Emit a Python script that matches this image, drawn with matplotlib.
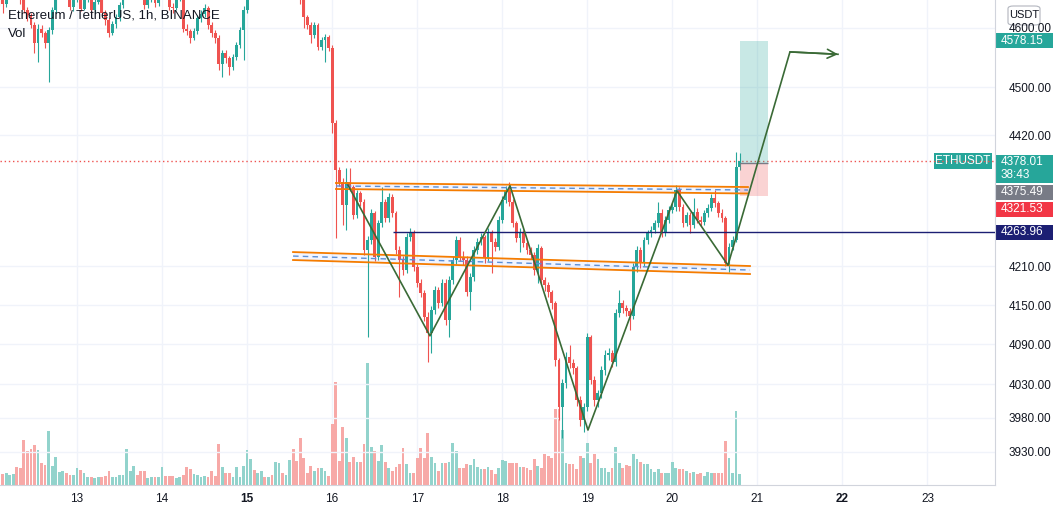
import matplotlib
matplotlib.use("Agg")
import matplotlib.pyplot as plt
import numpy as np
from matplotlib.patches import Rectangle, FancyBboxPatch
from matplotlib.ticker import NullLocator

W, H = 1059, 512

# hourly ETHUSDT candles, first bar 12 Nov 02:00
first_open = 4662
closes = [
    4650, 4641, 4660, 4672, 4681, 4664, 4655, 4630, 4622, 4605, 4574, 4598,
    4591, 4574, 4596, 4630, 4656, 4670, 4680, 4665, 4636, 4650, 4662, 4633,
    4650, 4660, 4630, 4645, 4655, 4625, 4613, 4591, 4606, 4618, 4639, 4655,
    4665, 4675, 4690, 4680, 4670, 4639, 4650, 4660, 4643, 4655, 4670, 4660,
    4636, 4634, 4648, 4660, 4598, 4595, 4583, 4595, 4617, 4623, 4634, 4605,
    4591, 4583, 4538, 4558, 4548, 4533, 4550, 4570, 4596, 4630, 4665, 4690,
    4675, 4700, 4725, 4705, 4730, 4712, 4735, 4755, 4730, 4745, 4760, 4720,
    4680, 4648, 4618, 4605, 4588, 4605, 4568, 4579, 4584, 4565, 4440, 4363,
    4344, 4307, 4344, 4336, 4291, 4326, 4312, 4236, 4252, 4294, 4225, 4278,
    4312, 4286, 4320, 4294, 4236, 4220, 4204, 4256, 4263, 4209, 4184, 4169,
    4132, 4107, 4142, 4173, 4153, 4184, 4127, 4189, 4220, 4252, 4225, 4220,
    4170, 4194, 4236, 4248, 4256, 4223, 4263, 4248, 4241, 4283, 4315, 4331,
    4312, 4278, 4255, 4264, 4247, 4236, 4228, 4204, 4239, 4189, 4181, 4170,
    4153, 4066, 3996, 4032, 4071, 4062, 4054, 4006, 3977, 3996, 4101, 4036,
    4006, 4017, 4051, 4074, 4077, 4063, 4138, 4153, 4145, 4141, 4133, 4209,
    4236, 4215, 4252, 4263, 4267, 4278, 4294, 4263, 4283, 4299, 4304, 4331,
    4304, 4278, 4291, 4275, 4296, 4283, 4280, 4294, 4302, 4318, 4310, 4294,
    4286, 4215, 4241, 4252, 4368, 4378.01,
]
highs = [
    4668, 4655, 4664, 4680, 4690, 4684, 4668, 4660, 4636, 4626, 4610, 4606,
    4604, 4595, 4601, 4636, 4662, 4678, 4692, 4684, 4668, 4656, 4670, 4666,
    4655, 4668, 4664, 4652, 4662, 4660, 4630, 4617, 4611, 4624, 4645, 4662,
    4674, 4684, 4698, 4695, 4686, 4674, 4656, 4667, 4664, 4662, 4676, 4674,
    4665, 4642, 4654, 4668, 4664, 4606, 4598, 4600, 4622, 4630, 4641, 4638,
    4610, 4596, 4588, 4563, 4562, 4552, 4556, 4576, 4602, 4637, 4672, 4698,
    4696, 4708, 4732, 4730, 4738, 4735, 4742, 4765, 4760, 4752, 4770, 4764,
    4725, 4685, 4652, 4622, 4610, 4610, 4608, 4585, 4590, 4588, 4570, 4446,
    4368, 4350, 4366, 4366, 4340, 4332, 4330, 4316, 4258, 4300, 4298, 4284,
    4336, 4316, 4326, 4324, 4298, 4242, 4226, 4262, 4270, 4268, 4214, 4190,
    4174, 4140, 4148, 4180, 4178, 4190, 4190, 4195, 4226, 4258, 4256, 4234,
    4226, 4200, 4242, 4255, 4263, 4260, 4270, 4268, 4255, 4290, 4322, 4338,
    4344, 4316, 4282, 4270, 4268, 4250, 4240, 4232, 4245, 4242, 4194, 4186,
    4174, 4157, 4070, 4038, 4078, 4089, 4068, 4058, 4012, 4002, 4108, 4104,
    4042, 4022, 4057, 4081, 4084, 4082, 4144, 4173, 4158, 4150, 4146, 4215,
    4242, 4240, 4257, 4268, 4273, 4284, 4312, 4300, 4289, 4305, 4310, 4339,
    4336, 4308, 4296, 4296, 4318, 4302, 4290, 4299, 4308, 4324, 4331, 4314,
    4300, 4290, 4247, 4258, 4393, 4391,
]
lows = [
    4638, 4626, 4636, 4655, 4668, 4652, 4640, 4625, 4612, 4599, 4557, 4542,
    4585, 4566, 4508, 4590, 4625, 4650, 4664, 4655, 4630, 4628, 4645, 4628,
    4630, 4644, 4624, 4626, 4640, 4618, 4605, 4584, 4587, 4600, 4612, 4634,
    4650, 4660, 4670, 4672, 4662, 4633, 4634, 4645, 4636, 4638, 4650, 4654,
    4630, 4626, 4630, 4646, 4592, 4588, 4574, 4579, 4590, 4610, 4618, 4598,
    4584, 4574, 4529, 4517, 4540, 4520, 4528, 4545, 4565, 4545, 4625, 4660,
    4668, 4670, 4696, 4698, 4700, 4705, 4708, 4730, 4722, 4725, 4740, 4712,
    4672, 4640, 4599, 4598, 4574, 4583, 4562, 4562, 4542, 4560, 4424, 4254,
    4338, 4275, 4267, 4330, 4285, 4286, 4305, 4228, 4101, 4246, 4218, 4220,
    4272, 4280, 4280, 4288, 4230, 4162, 4196, 4200, 4250, 4203, 4178, 4162,
    4125, 4063, 4077, 4136, 4146, 4148, 4120, 4101, 4182, 4214, 4218, 4212,
    4164, 4142, 4188, 4230, 4244, 4216, 4218, 4200, 4234, 4236, 4278, 4310,
    4306, 4272, 4248, 4232, 4240, 4230, 4222, 4196, 4184, 4182, 4172, 4162,
    4144, 4058, 3977, 3950, 4024, 4054, 4046, 3998, 3968, 3959, 3990, 4030,
    3998, 3996, 4010, 4044, 4066, 4056, 4058, 4132, 4138, 4134, 4112, 4128,
    4202, 4208, 4210, 4246, 4257, 4262, 4272, 4256, 4258, 4278, 4294, 4298,
    4298, 4272, 4274, 4263, 4270, 4278, 4274, 4276, 4288, 4298, 4304, 4288,
    4280, 4211, 4202, 4236, 4248, 4364,
]
# volume, thousand ETH per hour
volumes = [
    19, 11, 12, 10, 11, 18, 17, 45, 34, 36, 40, 35, 22, 20, 54, 19, 28, 13,
    14, 12, 10, 10, 17, 15, 12, 8, 8, 7, 8, 8, 9, 14, 8, 8, 10, 10,
    36, 14, 19, 10, 14, 14, 7, 8, 8, 8, 18, 9, 9, 9, 7, 8, 10, 18,
    16, 11, 10, 8, 9, 8, 14, 9, 41, 18, 12, 12, 8, 18, 8, 19, 35, 26,
    15, 12, 14, 8, 8, 10, 23, 22, 12, 10, 25, 36, 24, 47, 27, 12, 19, 14,
    17, 17, 14, 9, 61, 103, 24, 58, 47, 23, 28, 23, 23, 41, 122, 38, 34, 24,
    40, 23, 17, 14, 18, 21, 37, 21, 12, 12, 27, 37, 27, 52, 28, 22, 14, 22,
    22, 23, 42, 34, 17, 17, 21, 20, 26, 18, 16, 16, 18, 15, 11, 17, 25, 24,
    22, 22, 22, 18, 18, 17, 15, 26, 19, 17, 31, 29, 27, 76, 76, 55, 22, 21,
    21, 16, 29, 27, 42, 22, 31, 26, 17, 17, 13, 17, 38, 22, 17, 20, 19, 31,
    26, 23, 21, 21, 16, 13, 16, 12, 12, 12, 23, 17, 16, 16, 14, 12, 13, 11,
    12, 9, 13, 12, 12, 12, 12, 44, 27, 12, 74, 11,
]

day_ticks = list(range(13, 24))
bold_days = [15, 22]
price_ticks = [3930, 3980, 4030, 4090, 4150, 4210, 4420, 4500, 4600]

last_price = 4378.01
countdown = "38:43"
level_price = 4263.96
entry_price, stop_price, target_price = 4375.49, 4321.53, 4578.15

# drawings, x in days of November
zigzag_t = [16.186, 17.150, 18.091, 19.008, 20.055, 20.654, 21.383, 21.948]
zigzag_p = [4339, 4103, 4338, 3962, 4330, 4212, 4559, 4555]
upper_t = [16.045, 20.889]
upper_top = [4342.5, 4336.0]
upper_mid = [4337.7, 4331.2]
upper_bot = [4332.8, 4325.6]
lower_t = [15.540, 20.913]
lower_top = [4232.6, 4210.7]
lower_mid = [4226.3, 4204.4]
lower_bot = [4220.1, 4198.2]
level_start = 16.715
pos_start, pos_end = 20.796, 21.125

up_c = "#26a69a"
dn_c = "#ef5350"
txt_c = "#131722"
grid_c = "#f0f3fa"
plt.rcParams["font.family"] = ["Liberation Sans", "DejaVu Sans"]

t = 12 + 2 / 24 + np.arange(len(closes)) / 24
c = np.array(closes, dtype=float)
o = np.concatenate([[first_open], c[:-1]])
rising = c >= o
colors = np.where(rising, up_c, dn_c)
vol_colors = np.where(rising, "#92d3cc", "#f7a9a7")

fig = plt.figure(figsize=(W / 100, H / 100), dpi=100)
fig.patch.set_facecolor("white")
ax = fig.add_axes([0, 27 / H, 995 / W, 485 / H])
axv = ax.twinx()
ax.set_zorder(2)
axv.set_zorder(1)
ax.patch.set_visible(False)
axv.patch.set_facecolor("white")

x0, x1 = 12.0946, 23.794
# volume pane
axv.bar(t, volumes, width=0.78 / 24, color=vol_colors, linewidth=0)
axv.set_ylim(0, 485)
axv.set_yticks([])
for s in axv.spines.values():
    s.set_visible(False)

# grid
for d in day_ticks:
    axv.axvline(d, color=grid_c, lw=1, zorder=0)

ax.set_yscale("log")
ax.set_xlim(x0, x1)
ax.set_ylim(3882, 4647.7)
for p in price_ticks:
    ax.axhline(p, color=grid_c, lw=1, zorder=0)

# candles
ax.vlines(t, lows, highs, colors=colors, lw=0.8, zorder=3)
ax.bar(t, np.maximum(np.abs(c - o), 0.8), bottom=np.minimum(o, c), width=0.8 / 24,
       color=colors, linewidth=0, zorder=3)

# last price and level lines
ax.axhline(last_price, color=dn_c, lw=1, ls=(0, (1, 2)), zorder=2)
ax.hlines(level_price, level_start, x1, color="#1c1f73", lw=1, zorder=4)

# channels
for tt, top, mid, bot in [(upper_t, upper_top, upper_mid, upper_bot),
                          (lower_t, lower_top, lower_mid, lower_bot)]:
    ax.fill_between(tt, bot, top, color="#2962ff", alpha=0.06, lw=0, zorder=4)
    ax.plot(tt, top, color="#f57c00", lw=1.3, zorder=5)
    ax.plot(tt, bot, color="#f57c00", lw=1.3, zorder=5)
    ax.plot(tt, mid, color="#5b8fd6", lw=1, ls=(0, (4, 3)), zorder=5)

# long position tool
ax.add_patch(Rectangle((pos_start, entry_price), pos_end - pos_start, target_price - entry_price,
                       facecolor=up_c, alpha=0.25, lw=0, zorder=4))
ax.add_patch(Rectangle((pos_start, stop_price), pos_end - pos_start, entry_price - stop_price,
                       facecolor=dn_c, alpha=0.25, lw=0, zorder=4))
ax.hlines(entry_price, pos_start, pos_end, color="#787b86", lw=1, zorder=5)

# zigzag projection
zz_c = "#3a6a36"
ax.plot(zigzag_t, zigzag_p, color=zz_c, lw=1.2, zorder=6)
ax.annotate("", xy=(zigzag_t[-1], zigzag_p[-1]), xytext=(zigzag_t[-2], zigzag_p[-2]),
            arrowprops=dict(arrowstyle="->", color=zz_c, lw=1.2, mutation_scale=16,
                            shrinkA=0, shrinkB=0), zorder=6)

# axes styling
ax.yaxis.tick_right()
ax.yaxis.set_minor_locator(NullLocator())
ax.set_yticks(price_ticks)
ax.set_yticklabels([f"{p:.2f}" for p in price_ticks])
ax.tick_params(axis="y", length=0, pad=10, labelsize=8.5, labelcolor=txt_c)
ax.set_xticks(day_ticks)
ax.set_xticklabels([str(d) for d in day_ticks])
for lab, d in zip(ax.get_xticklabels(), day_ticks):
    if d in bold_days:
        lab.set_fontweight("bold")
ax.tick_params(axis="x", length=0, pad=6, labelsize=8.5, labelcolor=txt_c)
for side in ["top", "left"]:
    ax.spines[side].set_visible(False)
ax.spines["right"].set_color("#d1d4dc")
ax.spines["bottom"].set_color("#d1d4dc")


def fy(y_px):
    return 1 - y_px / H


def price_px(p):
    disp = ax.transData.transform((x0, p))
    return H - disp[1]


def tag(y_px, text, bg, x_left=995, x_right=1053, h=15, ha="left"):
    fig.add_artist(Rectangle((x_left / W, fy(y_px + h / 2)), (x_right - x_left) / W, h / H,
                             transform=fig.transFigure, facecolor=bg, lw=0))
    tx = (x_left + 6) / W if ha == "left" else (x_left + x_right) / 2 / W
    fig.text(tx, fy(y_px), text, color="white", fontsize=8.5, va="center", ha=ha)


# title
fig.text(8 / W, fy(16), "Ethereum / TetherUS, 1h, BINANCE", fontsize=9.5, color=txt_c,
         va="center", ha="left")
fig.text(8 / W, fy(34), "Vol", fontsize=9.5, color=txt_c, va="center", ha="left")

# price scale tags
fig.add_artist(FancyBboxPatch((1008 / W, fy(25)), 32 / W, 19 / H,
                              boxstyle="round,pad=0,rounding_size=0.005",
                              transform=fig.transFigure, facecolor="white",
                              edgecolor="#b2b5be", lw=0.8))
fig.text(1024 / W, fy(15.5), "USDT", fontsize=8, color=txt_c, va="center", ha="center")

tag(price_px(target_price), f"{target_price:.2f}", up_c)
ly = price_px(last_price)
fig.add_artist(Rectangle((995 / W, fy(ly + 22)), 58 / W, 28 / H,
                         transform=fig.transFigure, facecolor=up_c, lw=0))
fig.text(1001 / W, fy(ly + 1), f"{last_price:.2f}", color="white", fontsize=8.5, va="center")
fig.text(1001 / W, fy(ly + 14), countdown, color="white", fontsize=8.5, va="center")
tag(ly + 31, f"{entry_price:.2f}", "#787b86")
tag(ly + 48, f"{stop_price:.2f}", "#f23645")
tag(price_px(level_price), f"{level_price:.2f}", "#1c1f73")
tag(ly, "ETHUSDT", up_c, x_left=934, x_right=992, h=16, ha="center")

fig.savefig("out.png", dpi=100)
